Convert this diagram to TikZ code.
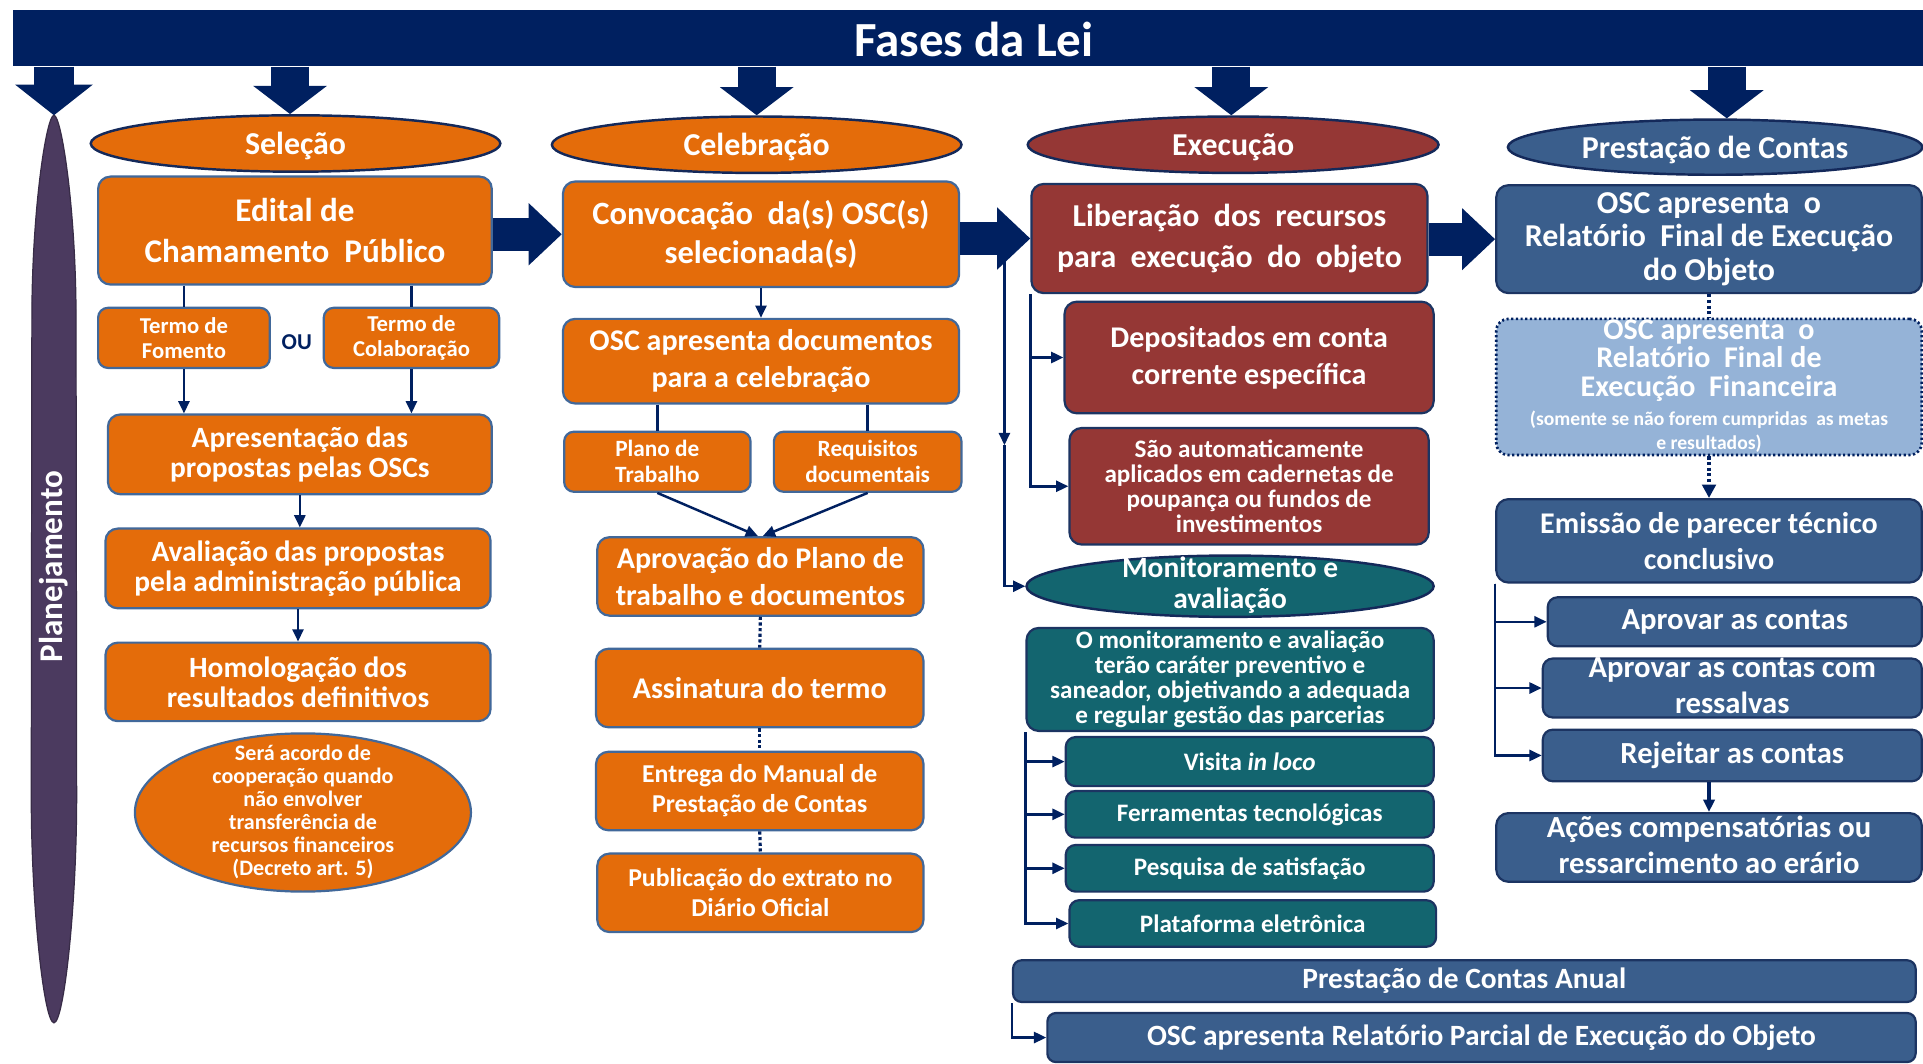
\documentclass[tikz,border=0pt]{standalone}
\usepackage{fontspec}
\setmainfont{Carlito}
\usetikzlibrary{shapes.geometric,arrows.meta,calc}
\definecolor{navy}{HTML}{002060}
\definecolor{orng}{HTML}{E46C0A}
\definecolor{obord}{HTML}{41689A}
\definecolor{redb}{HTML}{953735}
\definecolor{tealb}{HTML}{13656F}
\definecolor{blueb}{HTML}{3A5E8C}
\definecolor{dbord}{HTML}{1C3462}
\definecolor{lblue}{HTML}{95B3D7}
\definecolor{purp}{HTML}{4B3A5F}
\definecolor{elbord}{HTML}{14295A}
\newcommand\myfs[2]{\fontsize{#1}{#2}\selectfont\lineskiplimit=-100pt\relax}
\begin{document}
\begin{tikzpicture}[x=1pt,y=-1pt,
  base/.style={draw, line width=1.8pt, rounded corners=10pt, inner sep=0pt, align=center, text=white, font=\bfseries},
  obox/.style={base, fill=orng, draw=obord},
  rbox/.style={base, fill=redb, draw=dbord},
  tbox/.style={base, fill=tealb, draw=dbord},
  bbox/.style={base, fill=blueb, draw=dbord},
  fbox/.style={base, fill=lblue, draw=navy, dotted, line width=2.2pt},
  phase/.style={ellipse, draw=elbord, line width=2pt, inner sep=0pt, text depth=0pt, text=white, font=\bfseries\myfs{26}{30}},
  txt/.style={inner sep=0pt, align=center, text=white, font=\bfseries},
  conn/.style={draw=navy, line width=2pt},
  arr/.style={conn, -{Triangle[length=10pt,width=9pt]}},
  dots/.style={draw=navy, line width=2.6pt, dotted},
  block/.style={draw=navy, line width=27pt, -{Triangle[length=27pt,width=49pt]}},
  dblock/.style={draw=navy, line width=31pt, -{Triangle[length=23pt,width=59pt]}},
  sz/.style 2 args={minimum width=#1pt, minimum height=#2pt}
]
\useasboundingbox (0,0) rectangle (1568,867);
\fill[white] (0,0) rectangle (1568,867);

% top bar
\node[fill=navy, inner sep=0pt, sz={1560}{46}, anchor=north west] (bar) at (10,8) {};
\node[txt, font=\bfseries\myfs{40}{44}] (title) at (794,32) {Fases da Lei};

% Planejamento
\coordinate (plantop) at (44,94);
\fill[purp, draw=purp!75!black, line width=1pt] (44,94) .. controls (50,94) and (62,170) .. (62,260) -- (62.5,650) .. controls (62.5,740) and (52,834) .. (44,834) .. controls (36,834) and (25.5,740) .. (25.5,650) -- (26,260) .. controls (26,170) and (38,94) .. (44,94) -- cycle;
\node[txt, rotate=90, font=\bfseries\myfs{27}{30}] (planlbl) at (44,462) {Planejamento};

% phases
\node[phase, fill=orng, sz={334}{46}] (sel) at (241,117) {Seleção};
\node[phase, fill=orng, sz={334}{46}] (cel) at (617,118) {Celebração};
\node[phase, fill=redb, sz={335}{46}] (exe) at (1005.5,118) {Execução};
\node[phase, fill=blueb, sz={338}{45}] (pre) at (1398.5,120) {Prestação de Contas};

\coordinate (selA) at ($(sel.north)+(-4.5,0)$);
\coordinate (preA) at ($(pre.north)+(9.5,0)$);
\draw[draw=navy, line width=32pt, -{Triangle[length=25pt,width=62pt]}] (plantop |- bar.south) -- (plantop);
\draw[dblock] (selA |- bar.south) -- (selA);
\draw[dblock] (cel.north |- bar.south) -- (cel.north);
\draw[dblock] ([xshift=-1.5pt]exe.north |- bar.south) -- ([xshift=-1.5pt]exe.north);
\draw[dblock] (preA |- bar.south) -- (preA);

% Selecao column
\node[obox, sz={321}{88}, font=\bfseries\myfs{27}{33}] (edital) at (240.5,188) {Edital de\\Chamamento\ \ Público};
\node[obox, sz={140}{49}, rounded corners=8pt, font=\bfseries\myfs{18.5}{20.5}] (fomento) at (150,275.5) {Termo de\\Fomento};
\node[obox, sz={143}{49}, rounded corners=8pt, font=\bfseries\myfs{18.5}{20.5}] (colab) at (335.5,275.5) {Termo de\\Colaboração};
\node[inner sep=0pt, text=navy, font=\bfseries\myfs{18.5}{21}] (ou) at (242,279) {OU};
\node[obox, sz={313}{65}, font=\bfseries\myfs{24}{24.5}] (apres) at (244.5,370.5) {Apresentação das\\propostas pelas OSCs};
\node[obox, sz={314}{65}, font=\bfseries\myfs{24}{24.5}] (aval) at (243,463.5) {Avaliação das propostas\\pela administração pública};
\node[obox, sz={314}{64}, font=\bfseries\myfs{24}{24.5}] (homol) at (243,556) {Homologação dos\\resultados definitivos};
\node[ellipse, draw=obord, fill=orng, line width=1.8pt, inner sep=0pt, sz={274}{129}] (acordo) at (247,662.5) {};
\node[txt, font=\bfseries\myfs{18}{18.7}] (acordo-t) at (247,662) {Será acordo de\\cooperação quando\\não envolver\\transferência de\\recursos financeiros\\(Decreto art. 5)};

\draw[conn] (fomento.north |- edital.south) -- (fomento.north);
\draw[conn] (colab.north |- edital.south) -- (colab.north);
\draw[arr] (fomento.south) -- (fomento.south |- apres.north);
\draw[arr] (colab.south) -- (colab.south |- apres.north);
\draw[arr] (apres.south) -- (apres.south |- aval.north);
\draw[arr] (aval.south) -- (homol.north);

% Celebracao column
\node[obox, sz={323}{86}, font=\bfseries\myfs{26.5}{32}] (convoc) at (620.5,191) {Convocação\ \ da(s) OSC(s)\\selecionada(s)};
\node[obox, sz={323}{69}, font=\bfseries\myfs{24.5}{30}] (oscdocs) at (620.5,294.5) {OSC apresenta documentos\\para a celebração};
\node[obox, sz={152}{49}, rounded corners=8pt, font=\bfseries\myfs{19}{21}] (plano) at (536,376.5) {Plano de\\Trabalho};
\node[obox, sz={153}{49}, rounded corners=8pt, font=\bfseries\myfs{19}{21}] (requis) at (707.5,376.5) {Requisitos\\documentais};
\node[obox, sz={266}{64}, font=\bfseries\myfs{24.5}{30}] (aprov) at (620,470) {Aprovação do Plano de\\trabalho e documentos};
\node[obox, sz={267}{64}, font=\bfseries\myfs{24.5}{30}] (assin) at (619.5,561) {Assinatura do termo};
\node[obox, sz={267}{64}, font=\bfseries\myfs{21}{24.5}] (entrega) at (619.5,645) {Entrega do Manual de\\Prestação de Contas};
\node[obox, sz={266}{64}, font=\bfseries\myfs{21}{24.5}] (public) at (620,728) {Publicação do extrato no\\Diário Oficial};

\draw[block] (edital.east |- convoc.west) -- (convoc.west);
\draw[arr] (convoc.south) -- (oscdocs.north);
\draw[conn] (plano.north |- oscdocs.south) -- (plano.north);
\draw[conn] (requis.north |- oscdocs.south) -- (requis.north);
\draw[arr] (plano.south) -- ($(aprov.north)+(-2,0)$);
\draw[arr] (requis.south) -- ($(aprov.north)+(2,0)$);
\draw[dots] (aprov.south) -- (assin.north);
\draw[dots] (assin.south) -- (entrega.north);
\draw[dots] (entrega.south) -- (public.north);

% Execucao column
\node[rbox, sz={323}{89}, font=\bfseries\myfs{26}{34}] (liber) at (1002.5,194.5) {Liberação\ \ dos\ \ recursos\\para\ \ execução\ \ do\ \ objeto};
\node[rbox, sz={301}{91}, font=\bfseries\myfs{24.5}{30}] (depos) at (1018.5,291.5) {Depositados em conta\\corrente específica};
\node[rbox, sz={293}{95}, font=\bfseries\myfs{20.5}{20.5}] (sao) at (1018.5,396.5) {São automaticamente\\aplicados em cadernetas de\\poupança ou fundos de\\investimentos};
\node[phase, fill=tealb, sz={332}{50}] (monit) at (1003,478) {};
\node[txt, font=\bfseries\myfs{24}{25}] (monit-t) at (1003,477) {Monitoramento e\\avaliação};
\node[tbox, sz={332}{84}, font=\bfseries\myfs{20.5}{20.4}] (omon) at (1003,554) {O monitoramento e avaliação\\terão caráter preventivo e\\saneador, objetivando a adequada\\e regular gestão das parcerias};
\node[tbox, sz={300}{40}, rounded corners=8pt, font=\bfseries\myfs{20.5}{24}] (visita) at (1019,621) {Visita \textit{in loco}};
\node[tbox, sz={300}{38}, rounded corners=8pt, font=\bfseries\myfs{20.5}{24}] (ferr) at (1019,664) {Ferramentas tecnológicas};
\node[tbox, sz={300}{38}, rounded corners=8pt, font=\bfseries\myfs{20.5}{24}] (pesq) at (1019,708) {Pesquisa de satisfação};
\node[tbox, sz={299}{38}, rounded corners=8pt, font=\bfseries\myfs{20.5}{24}] (plat) at (1021.5,753) {Plataforma eletrônica};

\draw[block] (convoc.east |- liber.west) -- (liber.west);
\coordinate (j1) at (819,207);
\coordinate (j2) at (819,363);
\draw[arr] (j1) -- (j2);
\draw[arr] (j2) |- (monit.west);
\draw[arr] (liber.south west) |- (depos.west);
\draw[arr] (liber.south west) |- (sao.west);
\draw[arr] (omon.south west) |- (visita.west);
\draw[arr] (omon.south west) |- (ferr.west);
\draw[arr] (omon.south west) |- (pesq.west);
\draw[arr] (omon.south west) |- (plat.west);

% Prestacao de Contas column
\node[bbox, sz={347}{88}, font=\bfseries\myfs{26}{27}] (relobj) at (1393.5,195) {OSC apresenta\ \ o\\Relatório\ \ Final de Execução\\do Objeto};
\node[fbox, sz={347}{111}] (relfin) at (1393.5,315.5) {};
\node[txt, font=\bfseries\myfs{24.5}{23}] (relfin-t) at (1393.5,294) {OSC apresenta\ \ o\\Relatório\ \ Final de\\Execução\ \ Financeira};
\node[txt, font=\bfseries\myfs{16}{19.5}] (relfin-s) at (1393.5,352) {(somente se não forem cumpridas\ \ as metas\\e resultados)};
\node[bbox, sz={347}{68}, font=\bfseries\myfs{24.5}{29}] (emiss) at (1393.5,441) {Emissão de parecer técnico\\conclusivo};
\node[bbox, sz={305}{40}, rounded corners=8pt, font=\bfseries\myfs{25}{29}] (aprov1) at (1414.5,507) {Aprovar as contas};
\node[bbox, sz={309}{48}, rounded corners=8pt] (aprov2) at (1412.5,561) {};
\node[txt, font=\bfseries\myfs{25}{29}] (aprov2-t) at (1412.5,559) {Aprovar as contas com\\ressalvas};
\node[bbox, sz={309}{42}, rounded corners=8pt, font=\bfseries\myfs{25}{29}] (rejeit) at (1412.5,616) {Rejeitar as contas};
\node[bbox, sz={347}{56}] (acoes) at (1393.5,691) {};
\node[txt, font=\bfseries\myfs{25}{29}] (acoes-t) at (1393.5,689) {Ações compensatórias ou\\ressarcimento ao erário};

\draw[block] (liber.east |- relobj.west) -- (relobj.west);
\draw[dots, line width=3.5pt] (relobj.south) -- (relfin.north);
\draw[dots, line width=3.5pt, -{Triangle[length=11pt,width=11pt]}] (relfin.south) -- (emiss.north);
\draw[arr] (emiss.south west) |- (aprov1.west);
\draw[arr] (emiss.south west) |- (aprov2.west);
\draw[arr] (emiss.south west) |- (rejeit.west);
\draw[arr, line width=3.5pt] (acoes.north |- rejeit.south) -- (acoes.north);

% bottom
\node[bbox, sz={736}{34}, rounded corners=7pt, font=\bfseries\myfs{24}{28}] (anual) at (1194,800) {Prestação de Contas Anual};
\node[bbox, sz={708}{40}, rounded corners=7pt, font=\bfseries\myfs{24}{28}] (parcial) at (1208,846) {OSC apresenta Relatório Parcial de Execução do Objeto};
\draw[arr] (anual.south west) |- (parcial.west);
\end{tikzpicture}
\end{document}
